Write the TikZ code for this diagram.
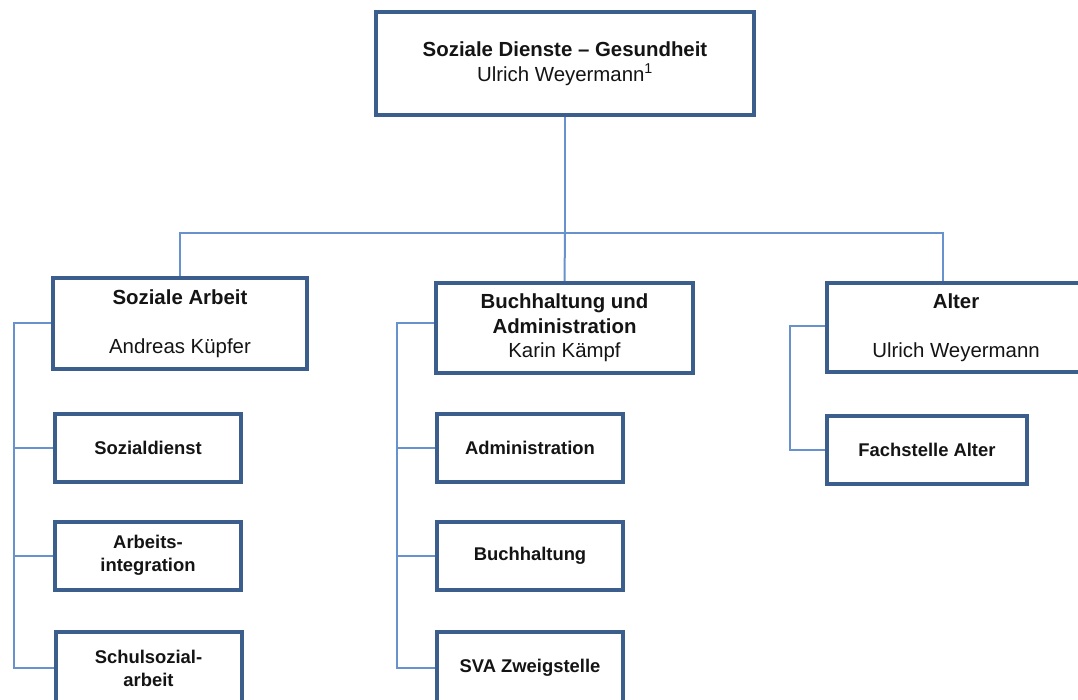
\documentclass[tikz,border=0pt]{standalone}
\usepackage{fontspec}
\setmainfont{Liberation Sans}
\usetikzlibrary{positioning}
\definecolor{box_blue}{RGB}{59,94,140}
\definecolor{line_blue}{RGB}{104,146,206}
\definecolor{text_black}{RGB}{20,20,20}
\tikzset{
	orgnode/.style = {
		align=center,
		inner sep=0pt,
		rectangle,
		draw=box_blue,
		line width=4pt,
		text=text_black,
		fill=white
	},
	node_head/.style = {
		orgnode,
		font=\fontsize{20.4}{24.5}\selectfont
	},
	node_unit/.style = {
		orgnode,
		font=\fontsize{18.4}{23}\selectfont\bfseries,
		minimum width=186pt,
		minimum height=68pt
	},
	node_unit_low/.style = {
		node_unit,
		minimum height=72pt
	},
	org_line/.style = {
		draw=line_blue,
		line width=2pt
	}
}

\begin{document}
\begin{tikzpicture}[x=1pt, y=-1pt]
\useasboundingbox [fill=white] (0,0) rectangle (1078,700);
\clip (0,0) rectangle (1078,700);
% heads
\node [node_head, minimum width=378pt, minimum height=103pt] (dienste) at (565,63.5) {\textbf{Soziale Dienste – Gesundheit}\\Ulrich Weyermann\textsuperscript{1}};
\node [node_head, minimum width=254pt, minimum height=91pt] (arbeit) at (180,323.5) {\textbf{Soziale Arbeit}\\[24.5pt]Andreas Küpfer};
\node [node_head, minimum width=257pt, minimum height=90pt] (buchh) at (564.5,328) {\textbf{Buchhaltung und}\\\textbf{Administration}\\Karin Kämpf};
\node [node_head, minimum width=258pt, minimum height=89pt] (alter) at (956,327.5) {\textbf{Alter}\\[24.5pt]Ulrich Weyermann};
% units
\node [node_unit] (sozd) at (148,448) {Sozialdienst};
\node [node_unit] (integ) at (148,555.5) {Arbeits-\\integration};
\node [node_unit_low] (schul) at (148.5,668) {Schulsozial-\\arbeit};
\node [node_unit] (admin) at (530,448) {Administration};
\node [node_unit] (buchf) at (530,555.5) {Buchhaltung};
\node [node_unit_low] (sva) at (530,668) {SVA Zweigstelle};
\node [node_unit, minimum width=200pt] (fach) at (927,449.5) {Fachstelle Alter};
% lines
\coordinate (bus) at (565,233);
\draw [org_line] (dienste.south) -- (bus);
\draw [org_line] (arbeit.north) |- (bus) -| ([xshift=-13pt]alter.north);
\draw [org_line] (bus) -- (buchh.north);
\coordinate (spine_l) at (14,323);
\draw [org_line] (spine_l -| arbeit.west) -- (spine_l) |- (schul.west);
\foreach \sub in {sozd,integ}
	\draw [org_line] (spine_l |- \sub.west) -- (\sub.west);
\coordinate (spine_m) at (397,323);
\draw [org_line] (spine_m -| buchh.west) -- (spine_m) |- (sva.west);
\foreach \sub in {admin,buchf}
	\draw [org_line] (spine_m |- \sub.west) -- (\sub.west);
\coordinate (spine_r) at (790,326);
\draw [org_line] (spine_r -| alter.west) -- (spine_r) |- (fach.west);
\end{tikzpicture}
\end{document}
